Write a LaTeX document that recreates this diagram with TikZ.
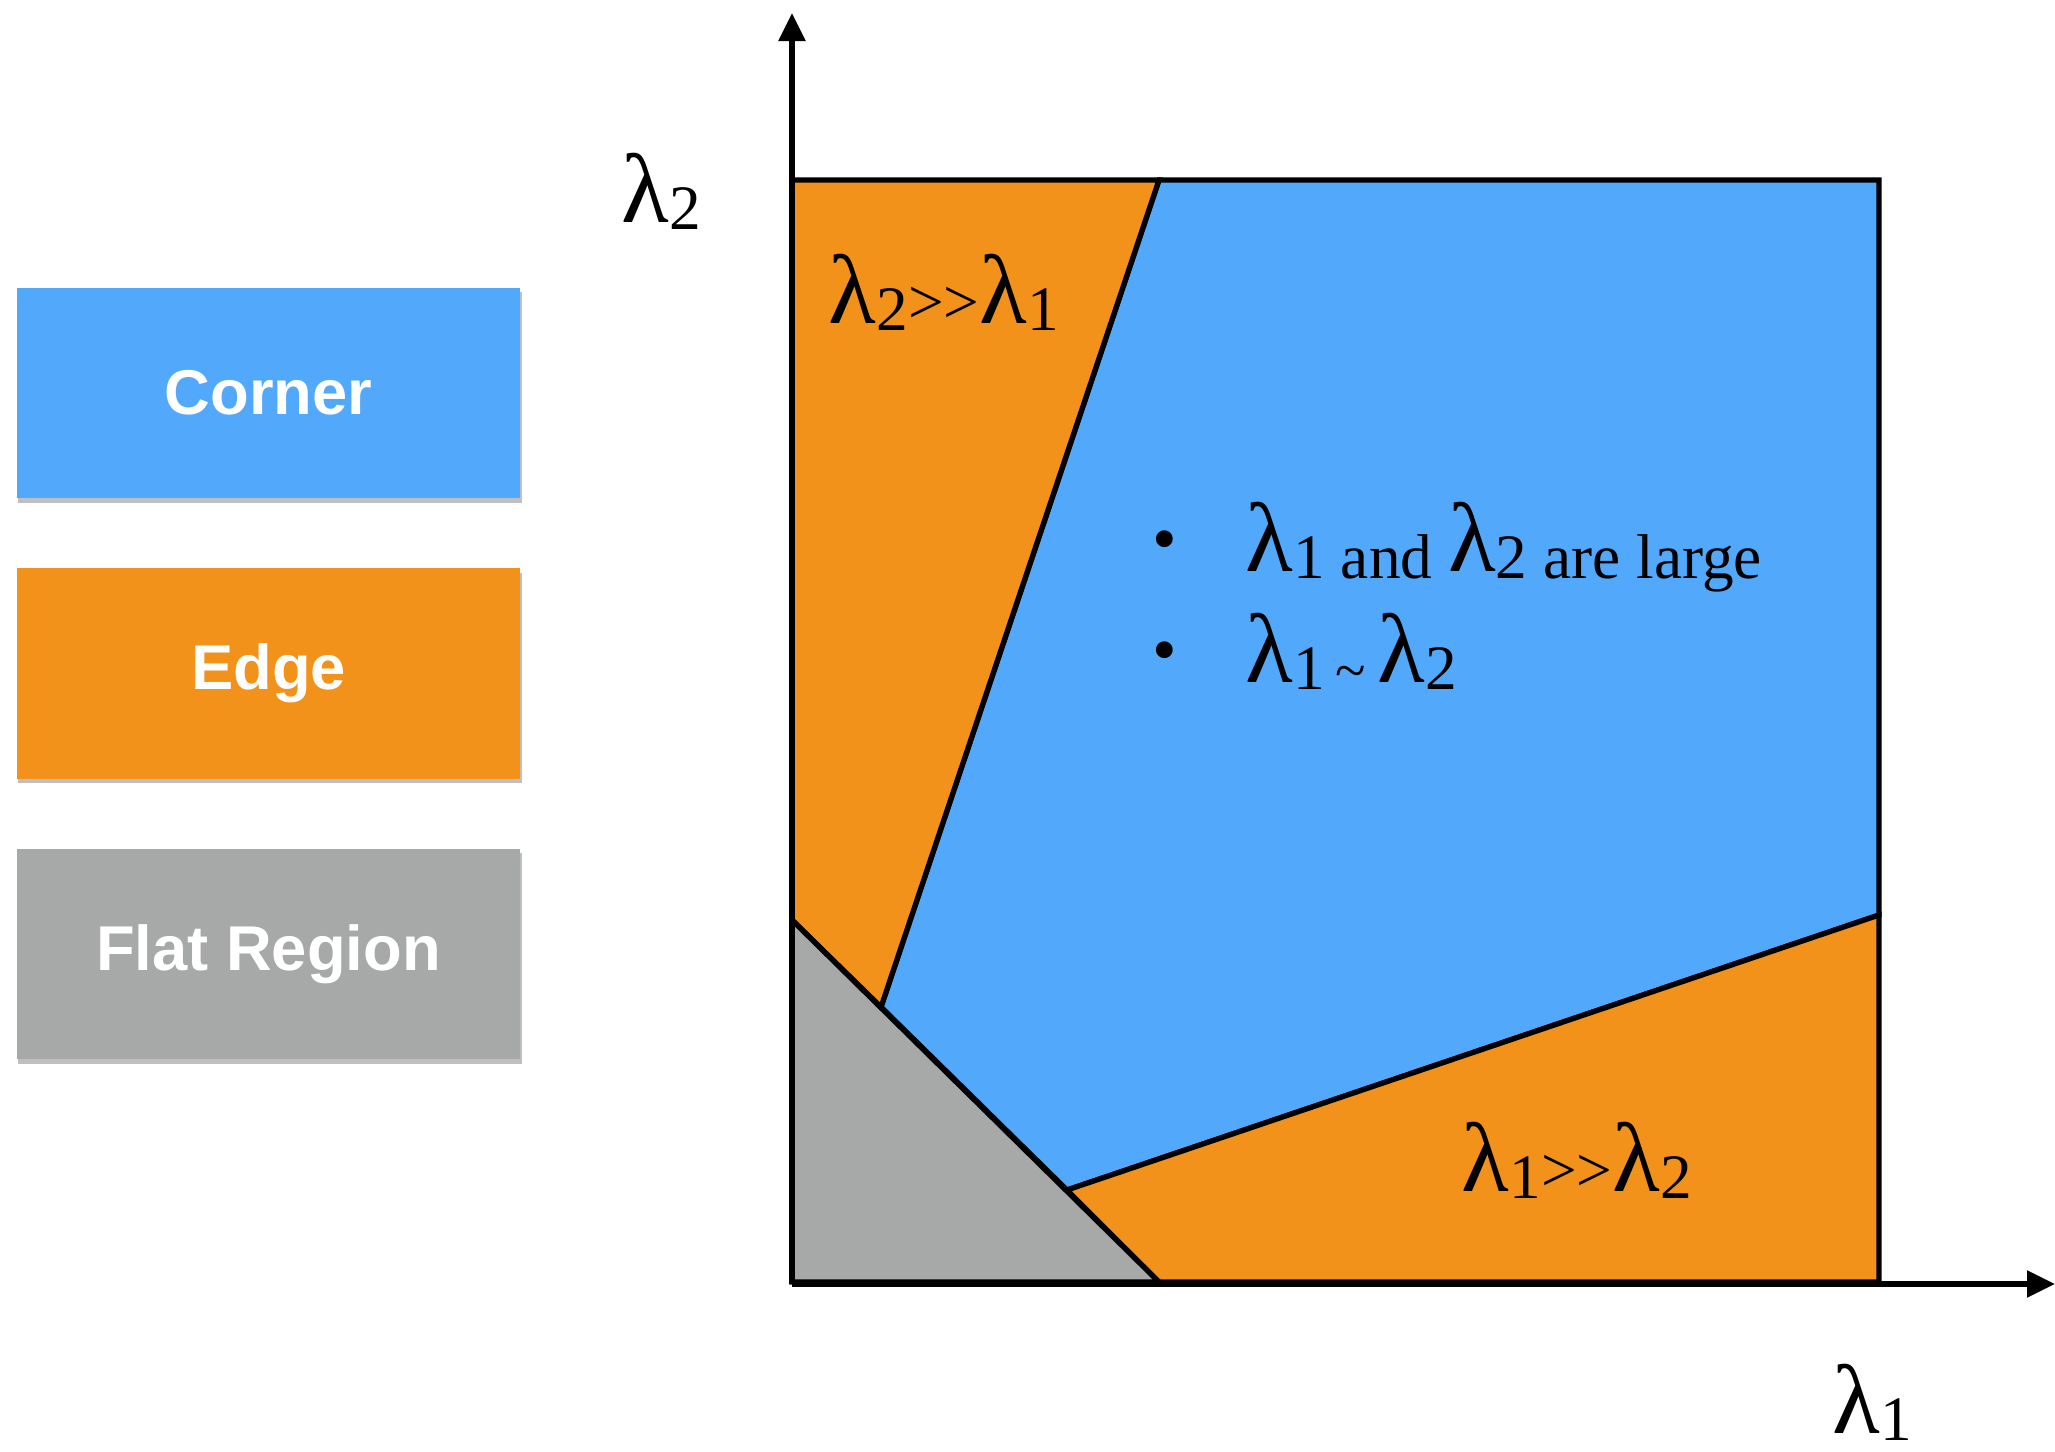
\documentclass[tikz,border=0pt]{standalone}
\usepackage{fontspec}
\setmainfont{Liberation Serif}
\newfontfamily\legendfont{Liberation Sans}
\usepackage{tikz}
\usetikzlibrary{calc,arrows.meta,shadows}

\definecolor{cornerblue}{RGB}{82,168,250}
\definecolor{edgeorange}{RGB}{242,146,26}
\definecolor{flatgrey}{RGB}{166,169,168}

% lambda (raised a little) with its index
\newcommand{\lam}[1]{\raisebox{0.07cm}{\fontsize{28}{30}\selectfont λ}#1}
\newcommand{\muchgt}{\raisebox{0.07cm}{>{}>}}

\begin{document}
\begin{tikzpicture}[x=0.01cm,y=-0.01cm,
  region/.style={draw=black,line width=1.5pt,line join=miter},
  axis/.style={line width=1.5pt,-{Triangle[length=0.28cm,width=0.26cm]}},
  lbl/.style={anchor=base west,inner sep=0pt,font=\fontsize{18}{22}\selectfont},
  legendbox/.style={minimum width=5.03cm,minimum height=2.10cm,inner sep=0pt,
    text=white,font=\legendfont\bfseries\fontsize{18}{20}\selectfont,
    drop shadow={shadow xshift=0.015cm,shadow yshift=-0.045cm,opacity=0.25,fill=black}}
]
\useasboundingbox (0,0) rectangle (2055,1451);

%%% LEGEND
\foreach \name/\col [count=\k] in {Corner/cornerblue,Edge/edgeorange,Flat Region/flatgrey}
{
\pgfmathsetmacro{\yy}{393+(\k-1)*280.5}
\node[legendbox,fill=\col] (leg\k) at (268.5,\yy) {\name};
}

%%% REGIONS
% corners of the box and the split points
\coordinate (TL) at (792,180);
\coordinate (TM) at (1159,180);
\coordinate (TR) at (1879,180);
\coordinate (RM) at (1879,915);
\coordinate (BR) at (1879,1282);
\coordinate (BM) at (1159,1282);
\coordinate (BL) at (792,1282);
\coordinate (LM) at (792,920);
\coordinate (P1) at (881,1007);
\coordinate (P2) at (1067,1190);

\filldraw[region,fill=cornerblue] (TM) -- (TR) -- (RM) -- (P2) -- (P1) -- cycle;
\filldraw[region,fill=edgeorange] (TL) -- (TM) -- (P1) -- (LM) -- cycle;
\filldraw[region,fill=edgeorange] (P2) -- (RM) -- (BR) -- (BM) -- cycle;
\filldraw[region,fill=flatgrey] (LM) -- (BM) -- (BL) -- cycle;

%%% AXES
\coordinate (O) at (792,1284);
\coordinate (ytip) at (792,13);
\coordinate (xtip) at (2055,1284);
\draw[axis] (O) -- (ytip);
\draw[axis] (O) -- (xtip);

\node[lbl] (ylab) at (621,229) {\lam{2}};
\node[lbl] (xlab) at (1832,1440) {\lam{1}};

%%% REGION LABELS
\node[lbl] (edge1) at (828,330) {\lam{2}\muchgt\lam{1}};
\node[lbl] (edge2) at (1461,1198) {\lam{1}\muchgt\lam{2}};

\node[font=\fontsize{20}{24}\selectfont] (b1) at (1165,547) {•};
\node[font=\fontsize{20}{24}\selectfont] (b2) at (1165,658) {•};
\node[lbl] (t1) at (1245,578) {\lam{1} and \lam{2} are large};
\node[lbl] (t2) at (1245,689) {\lam{1}\hspace{0.1cm}{\fontsize{16}{18}\selectfont\textasciitilde}\hspace{0.12cm}\lam{2}};
\end{tikzpicture}
\end{document}
